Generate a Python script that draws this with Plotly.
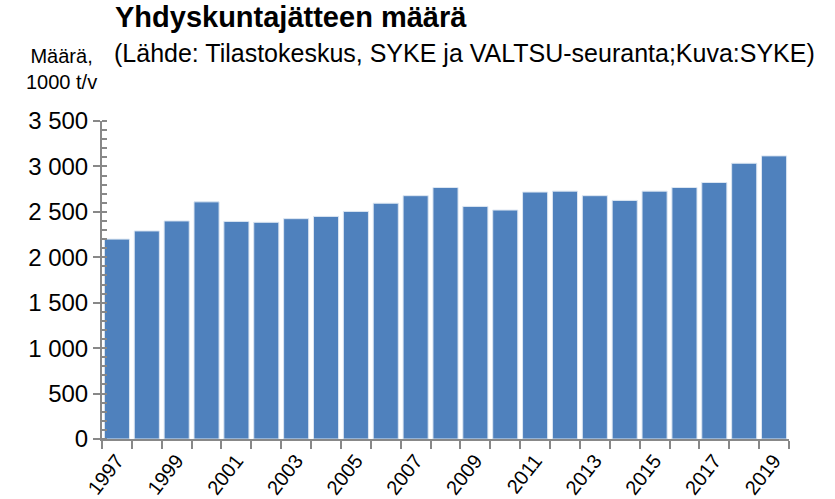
import plotly.graph_objects as go

years = list(range(1997, 2020))
values = [2200, 2290, 2400, 2610, 2395, 2385, 2425, 2450, 2505, 2595,
          2678, 2768, 2560, 2520, 2718, 2728, 2678, 2626, 2728, 2768,
          2823, 3035, 3116]

y_tickvals = [0, 500, 1000, 1500, 2000, 2500, 3000, 3500]
y_ticktext = ["0", "500", "1 000", "1 500", "2 000", "2 500", "3 000", "3 500"]
x_label_years = [y for y in years if y % 2 == 1]
x_boundaries = [y - 0.5 for y in years] + [years[-1] + 0.5]

title_text = "Yhdyskuntajätteen määrä"
subtitle_text = "(Lähde: Tilastokeskus, SYKE ja VALTSU-seuranta;Kuva:SYKE)"
yaxis_label = "Määrä,<br>1000 t/v"

FONT = "Liberation Sans, Arial, sans-serif"
AXIS_COLOR = "#888888"

L, R, T, B = 102, 46, 121, 60
W, H = 835, 499

fig = go.Figure()
fig.add_trace(go.Bar(
    x=years, y=values,
    marker=dict(color="#4F81BD", line=dict(color="#DCE6F2", width=1)),
    width=0.84,
))

fig.update_layout(
    width=W, height=H,
    margin=dict(l=L, r=R, t=T, b=B, autoexpand=False),
    paper_bgcolor="white", plot_bgcolor="white",
    showlegend=False,
    font=dict(family=FONT, color="black"),
    xaxis=dict(
        range=[1996.5, 2019.5], automargin=False,
        tickmode="array", tickvals=x_label_years,
        ticktext=[str(y) for y in x_label_years],
        tickangle=-52, tickfont=dict(size=20, family=FONT),
        ticks="", showgrid=False, zeroline=False,
        showline=True, linecolor=AXIS_COLOR, linewidth=2,
        minor=dict(tickmode="array", tickvals=x_boundaries, ticks="outside",
                   ticklen=8, tickwidth=2, tickcolor=AXIS_COLOR, showgrid=False),
    ),
    yaxis=dict(
        range=[0, 3500], automargin=False,
        tickmode="array", tickvals=y_tickvals, ticktext=y_ticktext,
        tickfont=dict(size=24, family=FONT),
        ticks="outside", ticklen=7, tickwidth=2, tickcolor=AXIS_COLOR,
        showgrid=False, zeroline=False,
        showline=True, linecolor=AXIS_COLOR, linewidth=2,
        minor=dict(dtick=100, ticks="inside", ticklen=5, tickwidth=1.5,
                   tickcolor=AXIS_COLOR, showgrid=False),
    ),
)

pw = W - L - R
ph = H - T - B


def px(x, y):
    return (x - L) / pw, (H - y - B) / ph


ann = [
    ("<b>" + title_text + "</b>", 113, 35, "left", 29),
    (subtitle_text, 112, 69, "left", 25),
]
annotations = []
for text, x, y, anchor, size in ann:
    ax, ay = px(x, y)
    annotations.append(dict(text=text, x=ax, y=ay, xref="paper", yref="paper",
                            showarrow=False, xanchor=anchor, yanchor="bottom",
                            font=dict(size=size, family=FONT)))
ax, ay = px(61, 95)
annotations.append(dict(text=yaxis_label, x=ax, y=ay, xref="paper", yref="paper",
                        showarrow=False, xanchor="center", yanchor="bottom",
                        align="center", font=dict(size=20, family=FONT)))
fig.update_layout(annotations=annotations)

fig.write_html("out.html", config={"displayModeBar": False},
               post_script="document.body.style.margin='0';document.body.style.overflow='hidden';")
